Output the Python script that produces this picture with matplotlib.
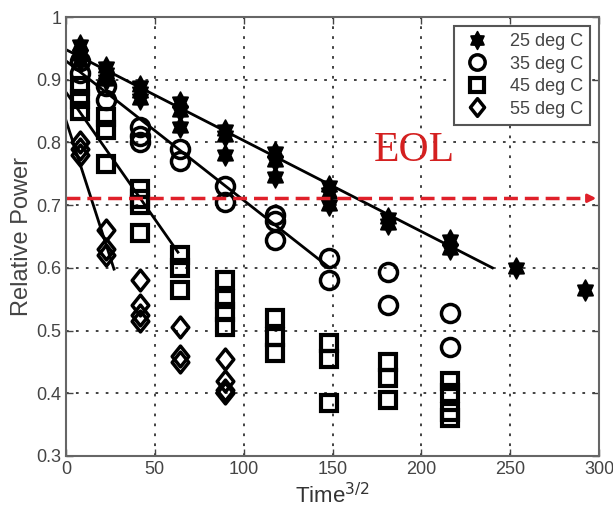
import matplotlib.pyplot as plt
import numpy as np
from matplotlib.path import Path

# time^(3/2) sample positions
t32 = [8, 22.6, 41.6, 64, 89.4, 117.6, 148.2, 181, 216, 253, 291.9]

# relative power readings per time step (several samples each)
p25 = [[0.955, 0.94, 0.93], [0.92, 0.91, 0.90], [0.89, 0.88, 0.87], [0.865, 0.85, 0.825],
       [0.82, 0.81, 0.78], [0.785, 0.77, 0.745], [0.73, 0.72, 0.70], [0.68, 0.67],
       [0.645, 0.63], [0.60], [0.565]]
p35 = [[0.93, 0.91], [0.89, 0.868], [0.825, 0.81, 0.80], [0.79, 0.77], [0.73, 0.705],
       [0.685, 0.675, 0.645], [0.615, 0.58], [0.593, 0.54], [0.528, 0.474]]
p45 = [[0.89, 0.87, 0.85], [0.84, 0.82, 0.765], [0.725, 0.71, 0.70, 0.655], [0.62, 0.60, 0.565],
       [0.58, 0.55, 0.53, 0.505], [0.52, 0.49, 0.465], [0.48, 0.455, 0.385],
       [0.45, 0.425, 0.39], [0.42, 0.40, 0.37, 0.36]]
p55 = [[0.80, 0.79, 0.78], [0.66, 0.63, 0.62], [0.58, 0.54, 0.525, 0.515],
       [0.505, 0.46, 0.45], [0.455, 0.42, 0.405, 0.40]]

# fitted lines (start/end points)
fit25 = ([0, 240], [0.948, 0.600])
fit35 = ([0, 148], [0.930, 0.601])
fit45 = ([0, 63], [0.880, 0.625])
fit55 = ([0, 27], [0.835, 0.598])

labels = ['25 deg C', '35 deg C', '45 deg C', '55 deg C']
eol = 0.711

plt.rcParams['font.family'] = ['Liberation Sans', 'DejaVu Sans']
fig = plt.figure(figsize=(6.13, 5.16), dpi=100)
ax = fig.add_axes([0.1077, 0.1163, 0.8695, 0.8507])


def flat(xs, ys):
    xx, yy = [], []
    for x, grp in zip(xs, ys):
        for v in grp:
            xx.append(x)
            yy.append(v)
    return xx, yy


# fat hexagram, a bit taller than wide (like the matlab marker in the scan)
ang = np.pi / 2 + np.arange(12) * np.pi / 6
rad = np.where(np.arange(12) % 2 == 0, 1.0, 0.6)
hexv = np.column_stack([0.85 * rad * np.cos(ang), rad * np.sin(ang)])
hexv = np.vstack([hexv, hexv[:1]])
hexagram = Path(hexv, closed=True)
tall_diamond = Path([(0, 1), (0.8, 0), (0, -1), (-0.8, 0), (0, 1)], closed=True)

styles = [
    dict(marker=hexagram, markersize=15, mfc='black', mec='black', mew=1.2),
    dict(marker='o', markersize=13, mfc='none', mec='black', mew=2.5),
    dict(marker='s', markersize=12, mfc='none', mec='black', mew=3),
    dict(marker=tall_diamond, markersize=15, mfc='none', mec='black', mew=2.5),
]
for data, st, lab in zip([p25, p35, p45, p55], styles, labels):
    xx, yy = flat(t32, data)
    ax.plot(xx, yy, linestyle='none', label=lab, **st)

for f in [fit25, fit35, fit45, fit55]:
    ax.plot(f[0], f[1], color='black', lw=2)

# EOL threshold
ax.plot([0, 296], [eol, eol], color='#e0202a', lw=2.5, ls=(0, (4, 2)))
ax.annotate('', xy=(300, eol), xytext=(293, eol),
            arrowprops=dict(arrowstyle='-|>', color='#e0202a', lw=2, mutation_scale=12))
ax.text(196, 0.786, 'EOL', color='#d42020', fontsize=30, family='Liberation Serif',
        ha='center', va='center')

ax.set_xlim(0, 300)
ax.set_ylim(0.3, 1)
ax.set_xticks([0, 50, 100, 150, 200, 250, 300])
ax.set_yticks([0.3, 0.4, 0.5, 0.6, 0.7, 0.8, 0.9, 1])
ax.set_yticklabels(['0.3', '0.4', '0.5', '0.6', '0.7', '0.8', '0.9', '1'])
ax.grid(True, linestyle=(0, (1.5, 4)), color='#333333', lw=1.3)
ax.tick_params(direction='in', top=True, right=True, labelsize=13, colors='#444444',
               length=5, width=1)
for s in ax.spines.values():
    s.set_color('#666666')
    s.set_linewidth(1.5)
ax.set_xlabel('Time$^{3/2}$', fontsize=16, color='#333333', labelpad=4)
ax.set_ylabel('Relative Power', fontsize=17, color='#444444', labelpad=2)

leg = ax.legend(loc='upper right', fontsize=13, fancybox=False, framealpha=1,
                edgecolor='#555555', borderpad=0.4, labelspacing=0.3, handletextpad=0.9,
                handlelength=1.8, numpoints=1, markerscale=0.85)
leg.get_frame().set_linewidth(1.5)
for t in leg.get_texts():
    t.set_color('#444444')

fig.savefig('out.png', dpi=100)
